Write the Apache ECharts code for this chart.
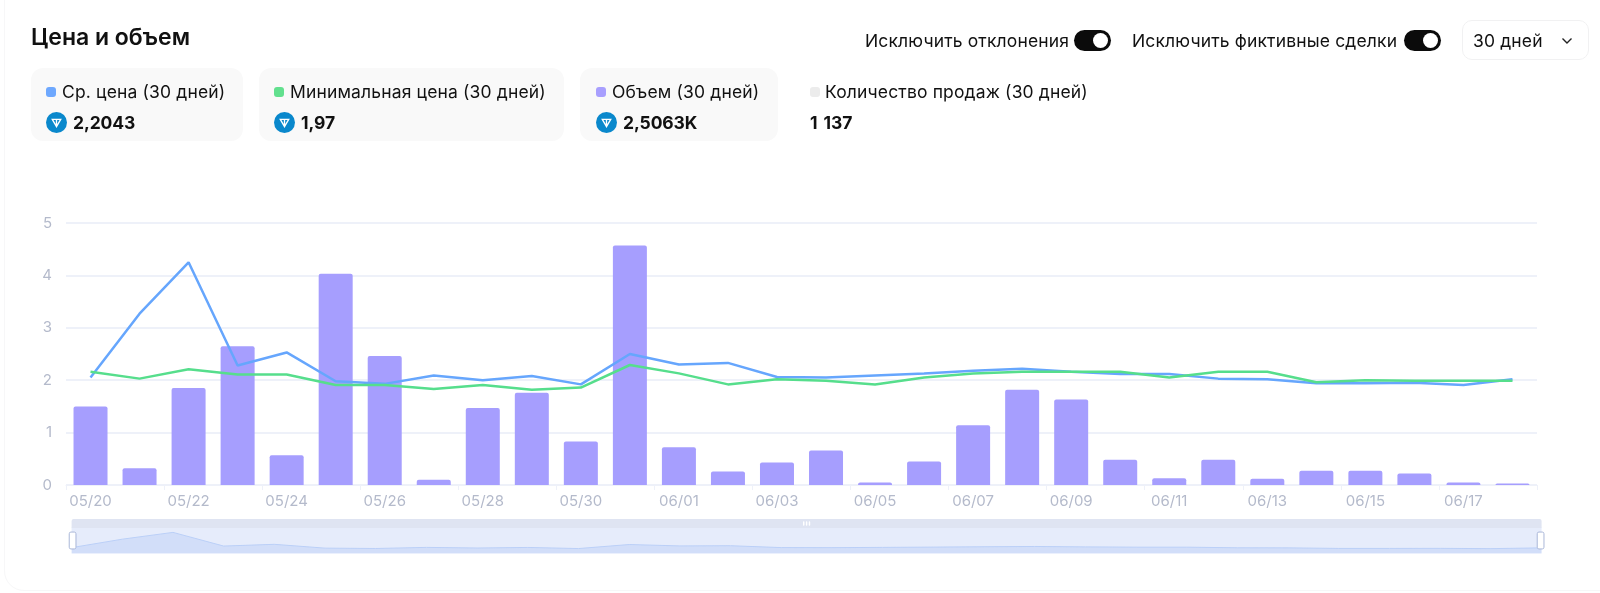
<!DOCTYPE html>
<html><head><meta charset="utf-8">
<script src="https://cdn.jsdelivr.net/npm/echarts@6/dist/echarts.min.js"></script>
<style>
html,body{margin:0;padding:0;background:#fff;width:1600px;height:593px;overflow:hidden;font-family:Inter,"Noto Sans",sans-serif;color:#111;}
#card{position:absolute;left:4px;top:-20px;width:1620px;height:611px;border:1px solid #f7f7f8;border-radius:20px;box-sizing:border-box;}
#chart{position:absolute;left:0;top:0;width:1600px;height:593px;}
.t{position:absolute;white-space:nowrap;}
.title{left:31px;top:24px;font-size:23px;font-weight:600;line-height:26px;}
.lbl{font-size:17.5px;line-height:22px;letter-spacing:.15px;}
.val{font-size:17.5px;font-weight:700;line-height:22px;letter-spacing:-.1px;}
.box{position:absolute;top:68px;height:73px;background:#f9f9f9;border-radius:12px;}
.sq{position:absolute;width:10px;height:10px;border-radius:3px;top:87px;}
.ton{position:absolute;top:112px;width:21px;height:21px;}
.sw{position:absolute;top:30px;width:37px;height:21px;border-radius:11px;background:#0b0b0b;}
.sw i{position:absolute;right:3px;top:3px;width:15px;height:15px;border-radius:50%;background:#fff;}
#sel{position:absolute;left:1462px;top:20px;width:127px;height:40px;border:1px solid #f1f1f2;border-radius:10px;box-sizing:border-box;}
</style></head><body>
<div id="card"></div>
<div id="chart"></div>
<div class="t title">Цена и объем</div>
<div class="t lbl" style="left:865px;top:30px">Исключить отклонения</div><div class="sw" style="left:1074px"><i></i></div>
<div class="t lbl" style="left:1132px;top:30px">Исключить фиктивные сделки</div><div class="sw" style="left:1404px"><i></i></div>
<div id="sel"></div><div class="t lbl" style="left:1473px;top:30px">30 дней</div>
<svg style="position:absolute;left:1561px;top:37px" width="12" height="8"><path d="M1.5 1.5 L6 6 L10.5 1.5" fill="none" stroke="#222" stroke-width="1.4"/></svg>
<div class="box" style="left:31px;width:212px"></div>
<div class="box" style="left:259px;width:305px"></div>
<div class="box" style="left:580px;width:198px"></div>
<div class="sq" style="left:46px;background:#6ea8fe"></div><div class="t lbl" style="left:62px;top:81px">Ср. цена (30 дней)</div>
<div class="sq" style="left:274px;background:#62e08e"></div><div class="t lbl" style="left:290px;top:81px">Минимальная цена (30 дней)</div>
<div class="sq" style="left:596px;background:#a89ffe"></div><div class="t lbl" style="left:612px;top:81px">Объем (30 дней)</div>
<div class="sq" style="left:810px;background:#ececec"></div><div class="t lbl" style="left:825px;top:81px">Количество продаж (30 дней)</div>
<svg class="ton" style="left:46px" viewBox="0 0 20 20"><circle cx="10" cy="10" r="10" fill="#0a88cc"/><path d="M6 7h8l-4 7z M10 7v7" fill="none" stroke="#fff" stroke-width="1.3"/></svg>
<svg class="ton" style="left:274px" viewBox="0 0 20 20"><circle cx="10" cy="10" r="10" fill="#0a88cc"/><path d="M6 7h8l-4 7z M10 7v7" fill="none" stroke="#fff" stroke-width="1.3"/></svg>
<svg class="ton" style="left:596px" viewBox="0 0 20 20"><circle cx="10" cy="10" r="10" fill="#0a88cc"/><path d="M6 7h8l-4 7z M10 7v7" fill="none" stroke="#fff" stroke-width="1.3"/></svg>
<div class="t val" style="left:73px;top:112px">2,2043</div>
<div class="t val" style="left:301px;top:112px">1,97</div>
<div class="t val" style="left:623px;top:112px">2,5063K</div>
<div class="t val" style="left:810px;top:112px;word-spacing:2px">1 137</div>
<script>
const categories=['05/20','05/21','05/22','05/23','05/24','05/25','05/26','05/27','05/28','05/29','05/30','05/31','06/01','06/02','06/03','06/04','06/05','06/06','06/07','06/08','06/09','06/10','06/11','06/12','06/13','06/14','06/15','06/16','06/17','06/18'];
const volume=[1.5,0.32,1.85,2.65,0.57,4.03,2.46,0.1,1.47,1.76,0.83,4.57,0.72,0.26,0.43,0.66,0.05,0.45,1.14,1.82,1.63,0.48,0.13,0.48,0.12,0.27,0.27,0.22,0.05,0.03];
const avgPrice=[2.05,3.27,4.25,2.28,2.53,1.98,1.93,2.09,2.0,2.08,1.92,2.5,2.3,2.33,2.06,2.05,2.09,2.13,2.18,2.22,2.16,2.12,2.12,2.03,2.02,1.94,1.94,1.95,1.91,2.02];
const minPrice=[2.16,2.03,2.21,2.11,2.11,1.91,1.91,1.83,1.91,1.82,1.86,2.29,2.13,1.92,2.02,1.99,1.92,2.05,2.13,2.16,2.16,2.16,2.05,2.16,2.16,1.96,2.0,1.99,1.99,1.99];
const yTicks={min:0,max:5,interval:1};
const chart=echarts.init(document.getElementById('chart'));
chart.setOption({
 animation:false,
 textStyle:{fontFamily:'Inter'},
 grid:{left:66,right:63,top:223,height:262},
 xAxis:{type:'category',data:categories,boundaryGap:true,
  axisLine:{lineStyle:{color:'#eef1f9',width:1}},
  axisTick:{show:true,interval:1,length:5,lineStyle:{color:'#eef1f9'}},
  axisLabel:{interval:1,color:'#b4bacb',fontSize:15,margin:9,hideOverlap:false}},
 yAxis:{type:'value',min:yTicks.min,max:yTicks.max,interval:yTicks.interval,
  axisLine:{show:false},axisTick:{show:false},
  axisLabel:{color:'#b4bacb',fontSize:15,margin:14},
  splitLine:{lineStyle:{color:'#e9edf7',width:1.5}}},
 dataZoom:[{type:'slider',xAxisIndex:0,start:0,end:100,left:68,right:62,top:519,height:26,
  showDetail:false,showDataShadow:true,
  backgroundColor:'rgba(0,0,0,0)',borderColor:'transparent',
  fillerColor:'rgba(205,218,248,0.5)',
  handleIcon:'path://M2,0 H6 Q8,0 8,2 V18 Q8,20 6,20 H2 Q0,20 0,18 V2 Q0,0 2,0 Z',
  handleSize:'65%',handleStyle:{color:'#fff',borderColor:'#aab7d8',borderWidth:1},
  moveHandleSize:9,moveHandleStyle:{color:'#dfe4f2',opacity:1},
  dataBackground:{lineStyle:{color:'#a9c6f8',width:1,opacity:1},areaStyle:{color:'#c4d7f8',opacity:.7}},
  selectedDataBackground:{lineStyle:{color:'#a9c6f8',width:1,opacity:1},areaStyle:{color:'#c4d7f8',opacity:.7}},
  brushSelect:true}],
 series:[
  {name:'Ср. цена',type:'line',data:avgPrice,symbol:'none',z:3,lineStyle:{color:'#66a6fd',width:2.5}},
  {name:'Минимальная цена',type:'line',data:minPrice,symbol:'none',z:4,lineStyle:{color:'#56de8c',width:2.5}},
  {name:'Объем',type:'bar',data:volume,barWidth:34,z:1,itemStyle:{color:'#a69efe',borderRadius:[2,2,0,0]}}
 ]
});
</script>
</body></html>
